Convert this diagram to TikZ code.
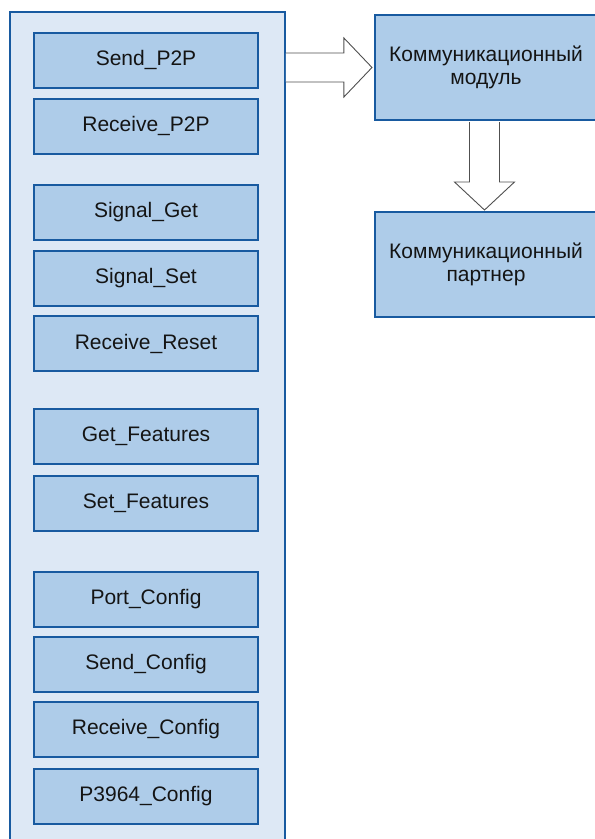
\documentclass[tikz,border=0pt]{standalone}
\usepackage{fontspec}
\setmainfont{Liberation Sans}
\usetikzlibrary{calc}
\definecolor{edgeblue}{RGB}{24,90,160}
\definecolor{panelfill}{RGB}{221,232,245}
\definecolor{boxfill}{RGB}{174,204,233}
\definecolor{arrowgray}{RGB}{80,80,80}
\definecolor{textcol}{RGB}{20,20,20}
\begin{document}
\begin{tikzpicture}[x=1pt,y=-1pt,
  panel/.style={draw=edgeblue,line width=1.8pt,fill=panelfill,inner sep=0pt,
    minimum width=275pt,minimum height=834pt},
  fb/.style={draw=edgeblue,line width=2pt,fill=boxfill,inner sep=0pt,
    minimum width=224pt,minimum height=55pt,text=textcol,
    font=\fontsize{21}{23.5}\selectfont},
  sidebox/.style={draw=edgeblue,line width=2pt,fill=boxfill,inner sep=0pt,
    minimum width=222pt,minimum height=105pt,text=textcol,align=center,
    font=\fontsize{21}{23.5}\selectfont},
  blockarrow/.style={draw=arrowgray,line width=0.9pt,fill=white,line join=miter}]
\useasboundingbox (0,0) rectangle (595,839);
\fill[white] (0,0) rectangle (595,839);

% left panel with the function blocks
\node[panel] (panel) at (147.5,429) {};
\node[fb] (sendp2p) at (146,60) {Send\_P2P};
\node[fb] (recvp2p) at (146,126) {Receive\_P2P};
\node[fb] (sigget) at (146,212.5) {Signal\_Get};
\node[fb] (sigset) at (146,278) {Signal\_Set};
\node[fb] (recvreset) at (146,343.5) {Receive\_Reset};
\node[fb] (getfeat) at (146,436.5) {Get\_Features};
\node[fb] (setfeat) at (146,503) {Set\_Features};
\node[fb] (portcfg) at (146,599.5) {Port\_Config};
\node[fb] (sendcfg) at (146,664.5) {Send\_Config};
\node[fb] (recvcfg) at (146,729.5) {Receive\_Config};
\node[fb] (p3964cfg) at (146,796) {P3964\_Config};

% communication module and partner
\node[sidebox] (modul) at (486,67.5) {Коммуникационный\\модуль};
\node[sidebox] (partner) at (486,264.5) {Коммуникационный\\партнер};

% block arrow: panel -> module
\draw[blockarrow]
  ($(panel.east |- modul.west)+(0,-14.5)$) -- ++(58,0) -- ++(0,-15)
  -- ($(modul.west)+(-2,0)$)
  -- ($(panel.east |- modul.west)+(58,29.5)$) -- ++(0,-15) -- ++(-58,0);

% block arrow: module -> partner
\draw[blockarrow]
  ($(modul.south)+(-16.5,1)$) -- ++(0,60) -- ++(-15,0)
  -- ($(partner.north)+(-1.5,-1)$)
  -- ($(modul.south)+(28.5,61)$) -- ++(-15,0) -- ($(modul.south)+(13.5,1)$);
\end{tikzpicture}
\end{document}
